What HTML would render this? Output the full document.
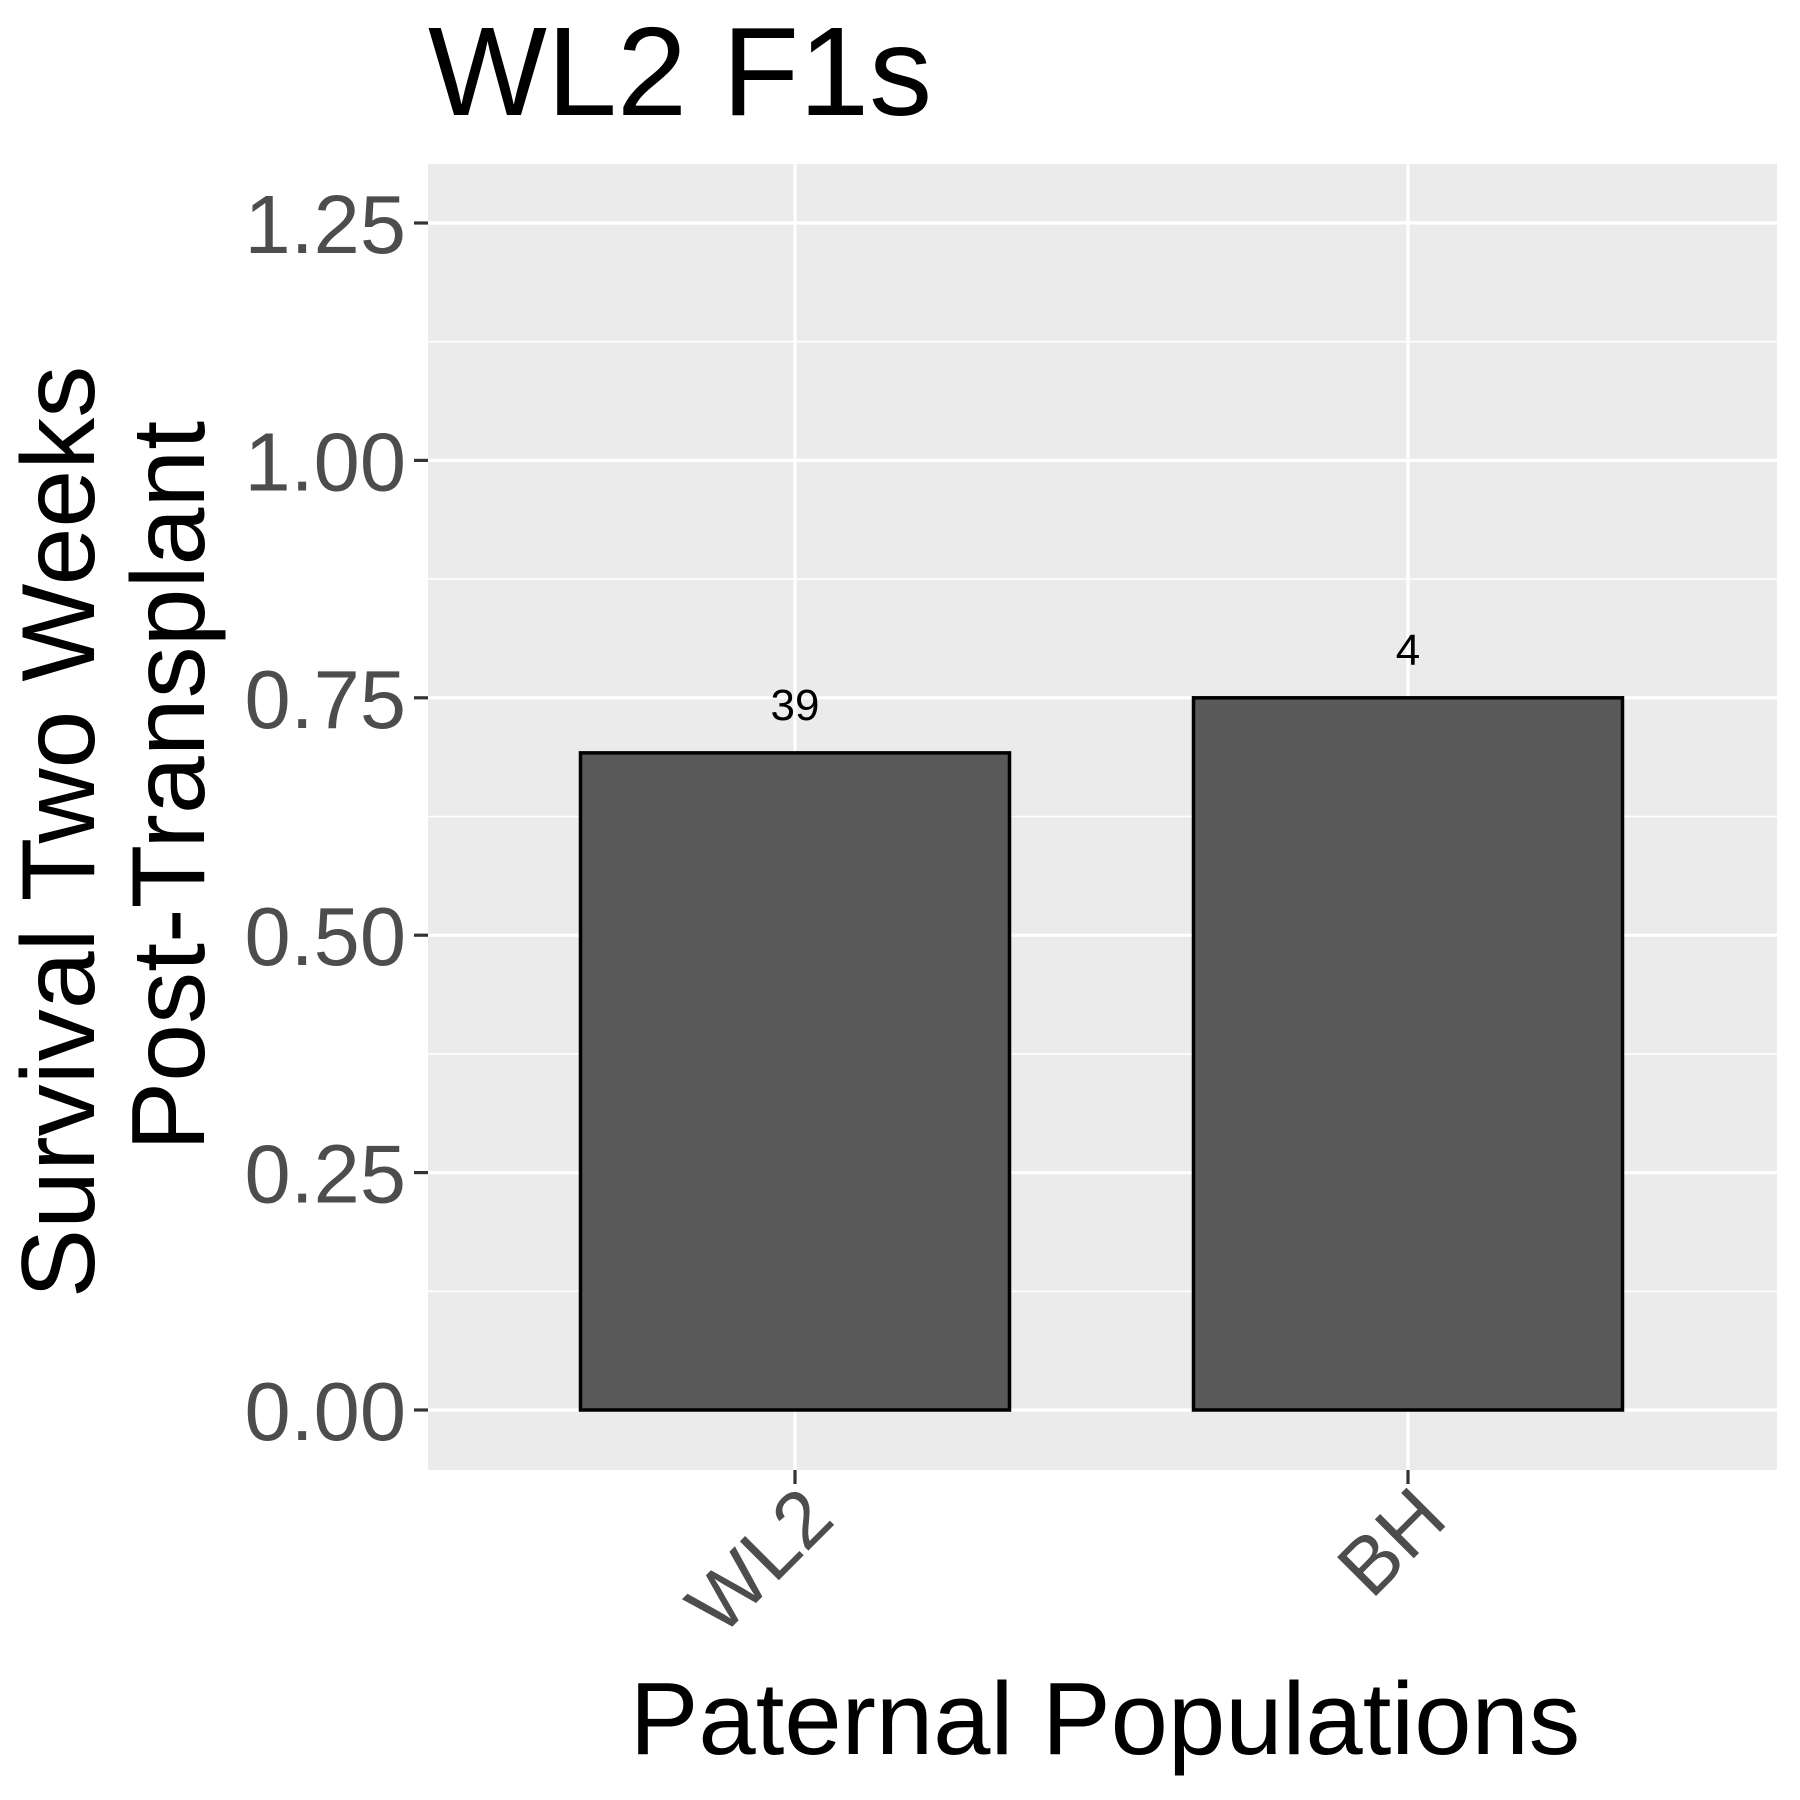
<!DOCTYPE html>
<html><head><meta charset="utf-8"><style>
html,body{margin:0;padding:0;background:#fff;}
svg{display:block;font-family:"Liberation Sans",Arial,sans-serif;}
</style></head><body>
<svg id="chart" width="1800" height="1800" viewBox="0 0 1800 1800">
<text x="428" y="115" font-size="126" fill="#000">WL2 F1s</text>
<rect x="428" y="164" width="1349" height="1306" fill="#ebebeb"/>
<g id="grid"></g>
<g id="bars"></g>
<g id="axes"></g>
<text x="1105" y="1754" font-size="103" text-anchor="middle" fill="#000">Paternal Populations</text>
<g>
<text transform="translate(94,832) rotate(-90)" x="0" y="0" font-size="104" text-anchor="middle" fill="#000">Survival Two Weeks</text>
<text transform="translate(204,786) rotate(-90)" x="0" y="0" font-size="104" text-anchor="middle" fill="#000">Post-Transplant</text>
</g>
</svg>
<script>
const categories = ["WL2", "BH"];
const values = [0.692, 0.75];
const counts = ["39", "4"];
const yTicks = [0, 0.25, 0.5, 0.75, 1.0, 1.25];
const yTickLabels = ["0.00", "0.25", "0.50", "0.75", "1.00", "1.25"];
const yMinor = [0.125, 0.375, 0.625, 0.875, 1.125];

const NS = "http://www.w3.org/2000/svg";
const y0px = 1410, perUnit = 949.6;
const yScale = v => y0px - v * perUnit;
const xStart = 795, xStep = 613;
const xScale = i => xStart + i * xStep;
const barW = 429;
function mk(tag, attrs, parent) {
  const e = document.createElementNS(NS, tag);
  for (const k in attrs) e.setAttribute(k, attrs[k]);
  parent.appendChild(e);
  return e;
}
const grid = document.getElementById('grid');
const bars = document.getElementById('bars');
const axes = document.getElementById('axes');
yMinor.forEach(v => {
  const l = mk('line', {x1: 428, x2: 1777, y1: yScale(v), y2: yScale(v), stroke: '#fff', 'stroke-width': 1.6}, grid);
  
  
});
yTicks.forEach((v, i) => {
  const l = mk('line', {x1: 428, x2: 1777, y1: yScale(v), y2: yScale(v), stroke: '#fff', 'stroke-width': 3.2}, grid);
  
  
  const t = mk('line', {x1: 414, x2: 428, y1: yScale(v), y2: yScale(v), stroke: '#333', 'stroke-width': 3.2}, axes);
  
  
  const tx = mk('text', {x: 406, y: yScale(v) + 30, 'font-size': 83, 'text-anchor': 'end', fill: '#4d4d4d'}, axes);
  tx.textContent = yTickLabels[i];
  
  
});
categories.forEach((c, i) => {
  const x = xScale(i);
  const g = mk('line', {x1: x, x2: x, y1: 164, y2: 1470, stroke: '#fff', 'stroke-width': 3.2}, grid);
  
  
  const r = mk('rect', {x: x - barW / 2, y: yScale(values[i]), width: barW, height: yScale(0) - yScale(values[i]), fill: '#595959', stroke: '#000', 'stroke-width': 3.5}, bars);
  
  
  const n = mk('text', {x: x, y: yScale(values[i]) - 33, 'font-size': 44, 'text-anchor': 'middle', fill: '#000'}, bars);
  n.textContent = counts[i];
  
  
  const t = mk('line', {x1: x, x2: x, y1: 1470, y2: 1484, stroke: '#333', 'stroke-width': 3.2}, axes);
  
  
  const tx = mk('text', {x: 0, y: 0, 'font-size': 80, 'text-anchor': 'end', fill: '#4d4d4d', transform: 'translate(' + (x + 42) + ',1522) rotate(-45)'}, axes);
  tx.textContent = c;
  
  
});
</script>
</body></html>
